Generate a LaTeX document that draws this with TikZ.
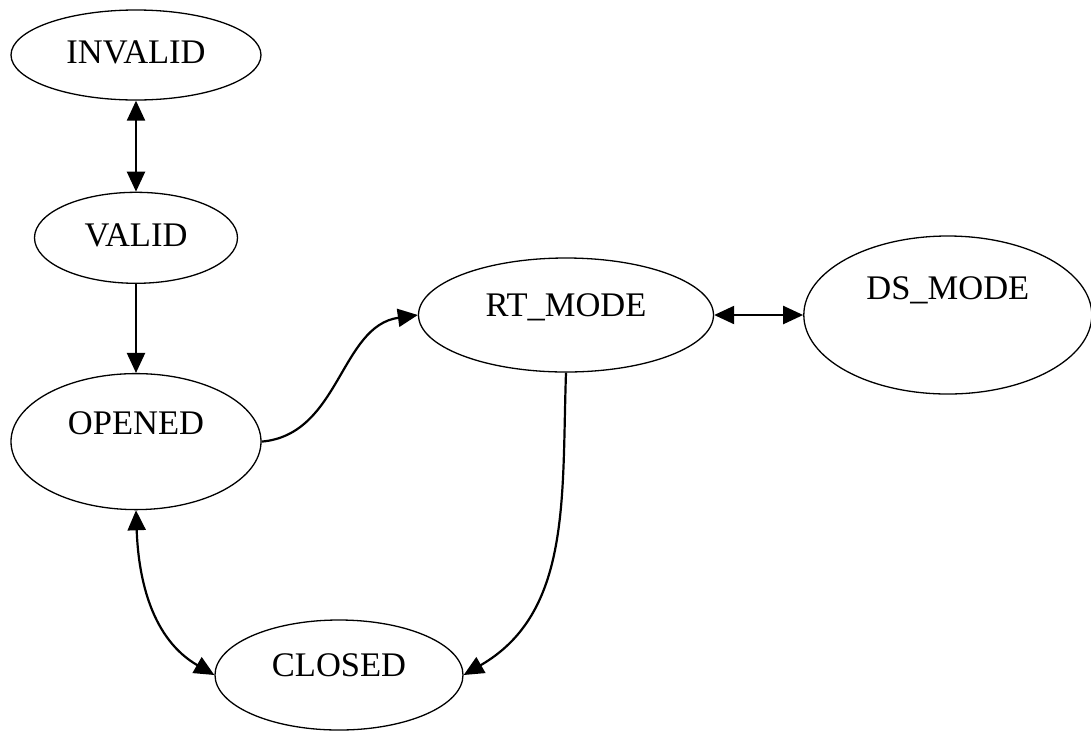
\documentclass[tikz,border=0pt]{standalone}
\usepackage{fontspec}
\setmainfont{Liberation Serif}
\usetikzlibrary{shapes.geometric, arrows.meta, positioning}

\begin{document}
\begin{tikzpicture}[x=1pt, y=1pt,
  state/.style={ellipse, draw=black, line width=1.3pt, inner sep=0pt, font=\fontsize{34.5}{40}\selectfont},
  arrow/.style={-{Triangle[length=20pt,width=18pt]}, line width=2.2pt},
  biarrow/.style={{Triangle[length=20pt,width=18pt]}-{Triangle[length=20pt,width=18pt]}, line width=2.2pt}
]
\useasboundingbox (0,0) rectangle (1091,-732);
\node[state, minimum width=250pt, minimum height=90pt, text depth=6pt] (invalid) at (136,-55) {INVALID};
\node[state, minimum width=203pt, minimum height=91pt, text depth=6pt, below=91pt of invalid] (valid) {VALID};
\node[state, minimum width=250pt, minimum height=136pt, text depth=38pt, below=89pt of valid] (opened) {OPENED};
\node[state, minimum width=295pt, minimum height=114pt, text depth=20pt] (rtmode) at (566,-315) {RT\_MODE};
\node[state, minimum width=288pt, minimum height=158pt, text depth=54pt, right=89pt of rtmode] (dsmode) {DS\_MODE};
\node[state, minimum width=248pt, minimum height=110pt, text depth=20pt] (closed) at (339,-675) {CLOSED};
\draw[biarrow] (invalid) -- (valid);
\draw[arrow] (valid) -- (opened);
\draw[arrow] (opened.east) to[out=5, in=188] (rtmode.west);
\draw[biarrow] (rtmode) -- (dsmode);
\draw[arrow] (rtmode.south) to[out=-92, in=30] (closed.east);
\draw[biarrow] (opened.south) to[out=-88, in=150] (closed.west);
\end{tikzpicture}
\end{document}
